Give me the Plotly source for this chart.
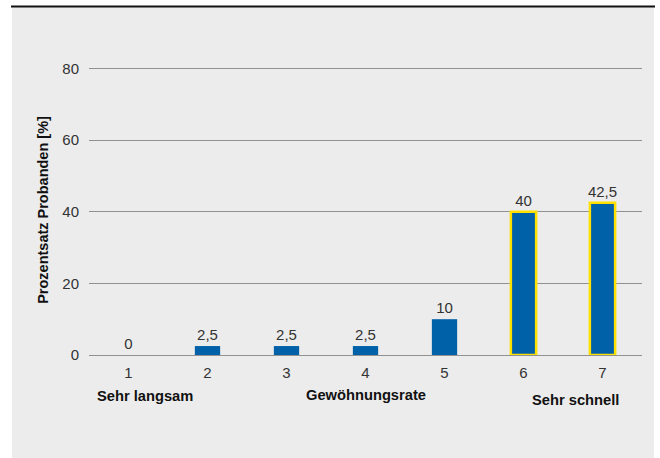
import plotly.graph_objects as go

categories = ["1", "2", "3", "4", "5", "6", "7"]
values = [0, 2.5, 2.5, 2.5, 10, 40, 42.5]
highlight = [False, False, False, False, False, True, True]
y_ticks = [0, 20, 40, 60, 80]
y_title = "Prozentsatz Probanden [%]"
x_notes = ["Sehr langsam", "Gewöhnungsrate", "Sehr schnell"]

W, H = 660, 458
YMAX = 81
L, R, B = 89, 18, 103
T = (H - B) - 286 * YMAX / 80
pw, ph = W - L - R, H - T - B

def px(x):
    return (x - L) / pw

def py(y):
    return (H - B - y) / ph

labels = [("%g" % v).replace(".", ",") for v in values]
FONT = "Liberation Sans, Arial, sans-serif"

fig = go.Figure()
fig.add_trace(go.Bar(
    x=categories, y=values,
    width=0.32,
    marker=dict(
        color="#0060A8",
        line=dict(color=["#FFE000" if h else "rgba(0,0,0,0)" for h in highlight],
                  width=[2.5 if h else 0 for h in highlight]),
    ),
    text=labels, textposition="outside", cliponaxis=False, constraintext="none",
    textfont=dict(size=15, color="#333333", family=FONT),
    hoverinfo="skip",
))

shapes = [
    dict(type="rect", xref="paper", yref="paper", x0=px(12), x1=px(654), y0=py(470), y1=py(7),
         fillcolor="#ECECEC", line=dict(width=0), layer="below"),
    dict(type="line", xref="paper", yref="paper", x0=px(11), x1=px(655), y0=py(7), y1=py(7),
         line=dict(color="#111111", width=2)),
]

note_pos = [(145, 396), (366, 395), (575, 400)]
annotations = [
    dict(text="<b>%s</b>" % t, xref="paper", yref="paper", x=px(x), y=py(y),
         showarrow=False, xanchor="center", yanchor="middle",
         font=dict(size=14.7, color="#111111", family=FONT))
    for t, (x, y) in zip(x_notes, note_pos)
]

fig.update_layout(
    width=W, height=H,
    margin=dict(l=L, r=R, t=T, b=B, pad=0),
    paper_bgcolor="white", plot_bgcolor="rgba(0,0,0,0)",
    font=dict(family=FONT, size=15, color="#333333"),
    showlegend=False,
    shapes=shapes, annotations=annotations,
    xaxis=dict(type="category", showgrid=False, showline=False, ticks="",
               tickfont=dict(size=15, color="#333333"), ticklabelstandoff=7),
    yaxis=dict(range=[0, YMAX], tickvals=y_ticks, showgrid=True, gridcolor="#919191",
               gridwidth=1, zeroline=True, zerolinecolor="#919191", zerolinewidth=1,
               showline=False, ticks="", ticklabelstandoff=9,
               tickfont=dict(size=15, color="#333333"),
               title=dict(text="<b>%s</b>" % y_title, standoff=10,
                          font=dict(size=14.5, color="#111111"))),
)

fig.write_html("out.html")
